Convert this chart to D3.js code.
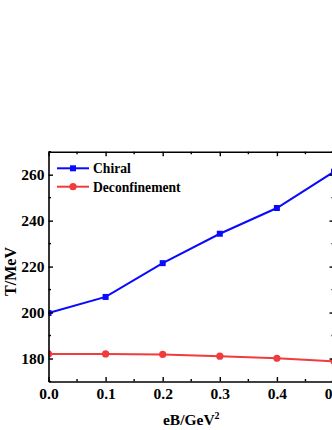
<!DOCTYPE html>
<html>
<head>
<meta charset='utf-8'>
<script src='https://d3js.org/d3.v7.min.js'></script>
<style>
body { margin: 0; background: #fff; }
text { font-family: 'Liberation Serif', 'Times New Roman', serif; font-weight: bold; }
</style>
</head>
<body>
<div id='chart'></div>
<script>
// values
var eB = [0.0, 0.1, 0.2, 0.3, 0.4, 0.5];
var chiral = [199.8, 206.8, 221.5, 234.3, 245.5, 261.3];
var deconf = [182.0, 182.0, 181.8, 181.0, 180.1, 178.8];
var xTicks = [0.0, 0.1, 0.2, 0.3, 0.4, 0.5];
var yTicks = [180, 200, 220, 240, 260];
var seriesNames = ['Chiral', 'Deconfinement'];

var W = 332, H = 430;
var pLeft = 48.5, pRight = 334, pTop = 151.7, pBottom = 381.5;

var svg = d3.select('#chart').append('svg')
  .attr('width', W).attr('height', H);

var x = d3.scaleLinear().domain([0, 0.5]).range([pLeft, pRight]);
var y = d3.scaleLinear().domain([170, 270]).range([pBottom, pTop]);

// data is clipped to the frame, like the original
svg.append('clipPath').attr('id', 'plotclip')
  .append('rect')
  .attr('x', pLeft).attr('y', pTop)
  .attr('width', pRight - pLeft).attr('height', pBottom - pTop);

// minor ticks
var xMinor = d3.range(0.05, 0.5, 0.1);
var yMinor = d3.range(170, 271, 10).filter(function(d) { return d % 20 != 0; });

var blue = '#0a0aff', red = '#f03c3c';

var line = d3.line()
  .x(function(d) { return x(d[0]); })
  .y(function(d) { return y(d[1]); });

var chiralPts = eB.map(function(d, i) { return [d, chiral[i]]; });
var deconfPts = eB.map(function(d, i) { return [d, deconf[i]]; });

var plot = svg.append('g').attr('clip-path', 'url(#plotclip)');

plot.append('path').datum(deconfPts).attr('d', line)
  .attr('fill', 'none').attr('stroke', red).attr('stroke-width', 2);
plot.append('g').selectAll('circle').data(deconfPts).enter().append('circle')
  .attr('cx', function(d) { return x(d[0]); })
  .attr('cy', function(d) { return y(d[1]); })
  .attr('r', 3.6).attr('fill', red);

plot.append('path').datum(chiralPts).attr('d', line)
  .attr('fill', 'none').attr('stroke', blue).attr('stroke-width', 2);
plot.append('g').selectAll('rect').data(chiralPts).enter().append('rect')
  .attr('x', function(d) { return x(d[0]) - 3; })
  .attr('y', function(d) { return y(d[1]) - 3; })
  .attr('width', 6).attr('height', 6).attr('fill', blue);

function styleAxis(g) {
  g.select('.domain').attr('stroke', '#000').attr('stroke-width', 1.6);
  g.selectAll('.tick line').attr('stroke', '#000').attr('stroke-width', 1.4);
  g.selectAll('.tick text').attr('font-size', '15.5px').attr('fill', '#000');
}

svg.append('g')
  .attr('transform', 'translate(0,' + pBottom + ')')
  .call(d3.axisBottom(x).tickValues(xTicks).tickFormat(d3.format('.1f')).tickSizeInner(-4.5).tickSizeOuter(0).tickPadding(6))
  .call(styleAxis);
svg.append('g')
  .attr('transform', 'translate(0,' + pTop + ')')
  .call(d3.axisTop(x).tickValues(xTicks).tickFormat('').tickSizeInner(-4.5).tickSizeOuter(0))
  .call(styleAxis);
svg.append('g')
  .attr('transform', 'translate(' + pLeft + ',0)')
  .call(d3.axisLeft(y).tickValues(yTicks).tickSizeInner(-4.5).tickSizeOuter(0).tickPadding(4))
  .call(styleAxis);
svg.append('g')
  .attr('transform', 'translate(' + pRight + ',0)')
  .call(d3.axisRight(y).tickValues(yTicks).tickFormat('').tickSizeInner(-4.5).tickSizeOuter(0))
  .call(styleAxis);

// minor tick marks
svg.append('g').selectAll('line').data(xMinor).enter().append('line')
  .attr('x1', function(d) { return x(d); }).attr('x2', function(d) { return x(d); })
  .attr('y1', pBottom).attr('y2', pBottom - 2.5).attr('stroke', '#000').attr('stroke-width', 1.4);
svg.append('g').selectAll('line').data(xMinor).enter().append('line')
  .attr('x1', function(d) { return x(d); }).attr('x2', function(d) { return x(d); })
  .attr('y1', pTop).attr('y2', pTop + 2.5).attr('stroke', '#000').attr('stroke-width', 1.4);
svg.append('g').selectAll('line').data(yMinor).enter().append('line')
  .attr('y1', function(d) { return y(d); }).attr('y2', function(d) { return y(d); })
  .attr('x1', pLeft).attr('x2', pLeft + 2.5).attr('stroke', '#000').attr('stroke-width', 1.4);
svg.append('g').selectAll('line').data(yMinor).enter().append('line')
  .attr('y1', function(d) { return y(d); }).attr('y2', function(d) { return y(d); })
  .attr('x1', pRight).attr('x2', pRight - 2.5).attr('stroke', '#000').attr('stroke-width', 1.4);

// legend
var leg = svg.append('g').attr('transform', 'translate(57,168.3)');
var colors = [blue, red];
seriesNames.forEach(function(name, i) {
  var g = leg.append('g').attr('transform', 'translate(0,' + (i * 18.4) + ')');
  g.append('line').attr('x1', 0).attr('x2', 32).attr('y1', 0).attr('y2', 0)
    .attr('stroke', colors[i]).attr('stroke-width', 2);
  if (i == 0) {
    g.append('rect').attr('x', 13).attr('y', -3).attr('width', 6).attr('height', 6).attr('fill', blue);
  } else {
    g.append('circle').attr('cx', 16).attr('cy', 0).attr('r', 3.6).attr('fill', red);
  }
  g.append('text').attr('x', 36).attr('y', 4.8).attr('font-size', '13.6px').text(name);
});

// axis titles
svg.append('text')
  .attr('transform', 'translate(15.5,271.5) rotate(-90)')
  .attr('text-anchor', 'middle').attr('font-size', '16px')
  .text('T/MeV');

var xt = svg.append('text')
  .attr('x', (pLeft + pRight) / 2).attr('y', 425)
  .attr('text-anchor', 'middle').attr('font-size', '15.5px');
xt.append('tspan').text('eB/GeV');
xt.append('tspan').attr('font-size', '10px').attr('dy', -6).text('2');
</script>
</body>
</html>
